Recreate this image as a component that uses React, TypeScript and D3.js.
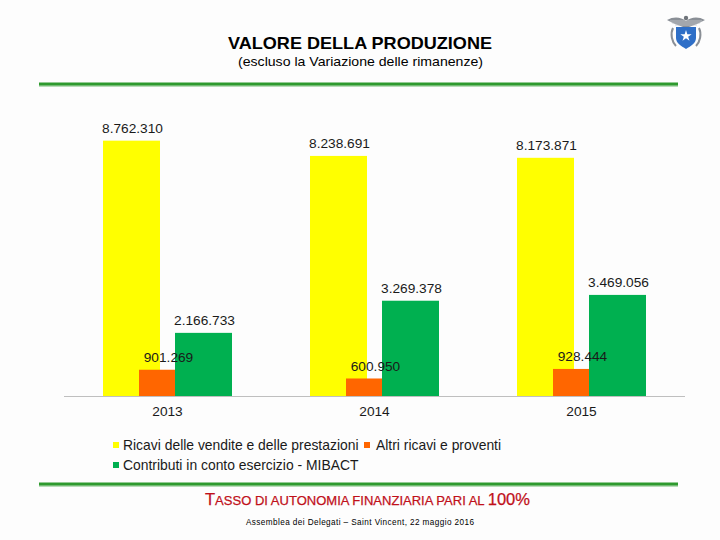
import React from "react";
import * as d3 from "d3";

const years = ["2013", "2014", "2015"];
const seriesNames = [
  "Ricavi delle vendite e delle prestazioni",
  "Altri ricavi e proventi",
  "Contributi in conto esercizio - MIBACT",
];
const ricavi = [8762310, 8238691, 8173871];
const altri = [901269, 600950, 928444];
const contributi = [2166733, 3269378, 3469056];
const colors = ["#ffff00", "#ff6600", "#00b050"];
const labels = [
  ["8.762.310", "8.238.691", "8.173.871"],
  ["901.269", "600.950", "928.444"],
  ["2.166.733", "3.269.378", "3.469.056"],
];

const FONT = "'Liberation Sans', Arial, sans-serif";

export default function App() {
  const series = [ricavi, altri, contributi];
  const x = d3.scaleBand<string>().domain(years).range([64, 685]);
  const y = d3.scaleLinear().domain([0, 10000000]).range([396, 104.6]);
  const barW = 57;
  const step = 36;
  const groupW = barW + step * 2;
  const offset = (x.bandwidth() - groupW) / 2;

  return (
    <svg
      width={720}
      height={540}
      style={{ position: "absolute", left: 0, top: 0, background: "#fff" }}
      fontFamily={FONT}
    >
      <rect x={0} y={0} width={720} height={540} fill="#fdfdfd" />
      {/* title */}
      <text x={228} y={49} fontSize={16.5} fontWeight="bold" fill="#000" textLength={264} lengthAdjust="spacingAndGlyphs">
        VALORE DELLA PRODUZIONE
      </text>
      <text x={238} y={66} fontSize={13.5} fill="#000" textLength={245} lengthAdjust="spacingAndGlyphs">
        (escluso la Variazione delle rimanenze)
      </text>
      {/* top green rule */}
      <line x1={39} x2={678} y1={86} y2={86} stroke="#b9dcb9" strokeWidth={2} />
      <line x1={39} x2={678} y1={84} y2={84} stroke="#2f9a2f" strokeWidth={3} />

      {/* logo */}
      <g transform="translate(686,32)">
        <path
          d="M-19,-12 C-12,-16 -5,-15 0,-11 C5,-15 12,-16 19,-12 C14,-9 8,-7 3,-5 L-3,-5 C-8,-7 -14,-9 -19,-12 Z"
          fill="#8a8f96"
        />
        <path d="M-16,-11 L16,-11 M-14,-9 L14,-9 M-11,-7 L11,-7" stroke="#c9ccd0" strokeWidth={0.8} />
        <circle cx={0} cy={-14} r={2.2} fill="#6f747a" />
        <path d="M-13,-4 C-16,2 -14,10 -10,14 M13,-4 C16,2 14,10 10,14" stroke="#8a8f96" strokeWidth={2} fill="none" />
        <path d="M-10,-5 L10,-5 L10,6 C10,11 5,14 0,17 C-5,14 -10,11 -10,6 Z" fill="#2f6fc7" />
        <path
          d={d3.symbol().type(d3.symbolStar).size(40)() || ""}
          transform="translate(0,4)"
          fill="#ffffff"
        />
      </g>

      {/* bars */}
      {series.map((vals, si) =>
        years.map((yr, i) => (
          <rect
            key={`b${si}-${i}`}
            x={(x(yr) ?? 0) + offset + si * step}
            y={y(vals[i])}
            width={barW}
            height={y(0) - y(vals[i])}
            fill={colors[si]}
          />
        ))
      )}
      {/* value labels */}
      {series.map((vals, si) =>
        years.map((yr, i) => (
          <text
            key={`l${si}-${i}`}
            x={(x(yr) ?? 0) + offset + si * step + barW / 2 + 1}
            y={y(vals[i]) - 7.5}
            textAnchor="middle"
            fontSize={13.7}
            fill="#1a1a1a"
          >
            {labels[si][i]}
          </text>
        ))
      )}
      {/* axis */}
      <line x1={64} x2={685} y1={396.5} y2={396.5} stroke="#bfbfbf" strokeWidth={1} />
      {years.map((yr) => (
        <text
          key={`y${yr}`}
          x={(x(yr) ?? 0) + x.bandwidth() / 2}
          y={416}
          textAnchor="middle"
          fontSize={13.7}
          fill="#1a1a1a"
        >
          {yr}
        </text>
      ))}

      {/* legend */}
      <rect x={113} y={442} width={6} height={6} fill={colors[0]} />
      <text x={123} y={449.5} fontSize={13.9} fill="#1a1a1a">{seriesNames[0]}</text>
      <rect x={364} y={442} width={6} height={6} fill={colors[1]} />
      <text x={376} y={449.5} fontSize={13.9} fill="#1a1a1a">{seriesNames[1]}</text>
      <rect x={113} y={462} width={6} height={6} fill={colors[2]} />
      <text x={123} y={469.5} fontSize={13.9} fill="#1a1a1a">{seriesNames[2]}</text>

      {/* bottom green rule */}
      <line x1={39} x2={678} y1={486} y2={486} stroke="#b9dcb9" strokeWidth={2} />
      <line x1={39} x2={678} y1={484} y2={484} stroke="#2f9a2f" strokeWidth={3} />

      <text x={205} y={505} fill="#c0101a" fontSize={13} stroke="#c0101a" strokeWidth={0.25} textLength={325} lengthAdjust="spacingAndGlyphs">
        <tspan fontSize={16.5}>T</tspan>
        <tspan>ASSO DI AUTONOMIA FINANZIARIA PARI AL </tspan>
        <tspan fontSize={16.5}>100%</tspan>
      </text>
      <text x={246} y={525} fontSize={8.2} fill="#000" textLength={228} lengthAdjust="spacing">
        Assemblea dei Delegati – Saint Vincent, 22 maggio 2016
      </text>
    </svg>
  );
}
